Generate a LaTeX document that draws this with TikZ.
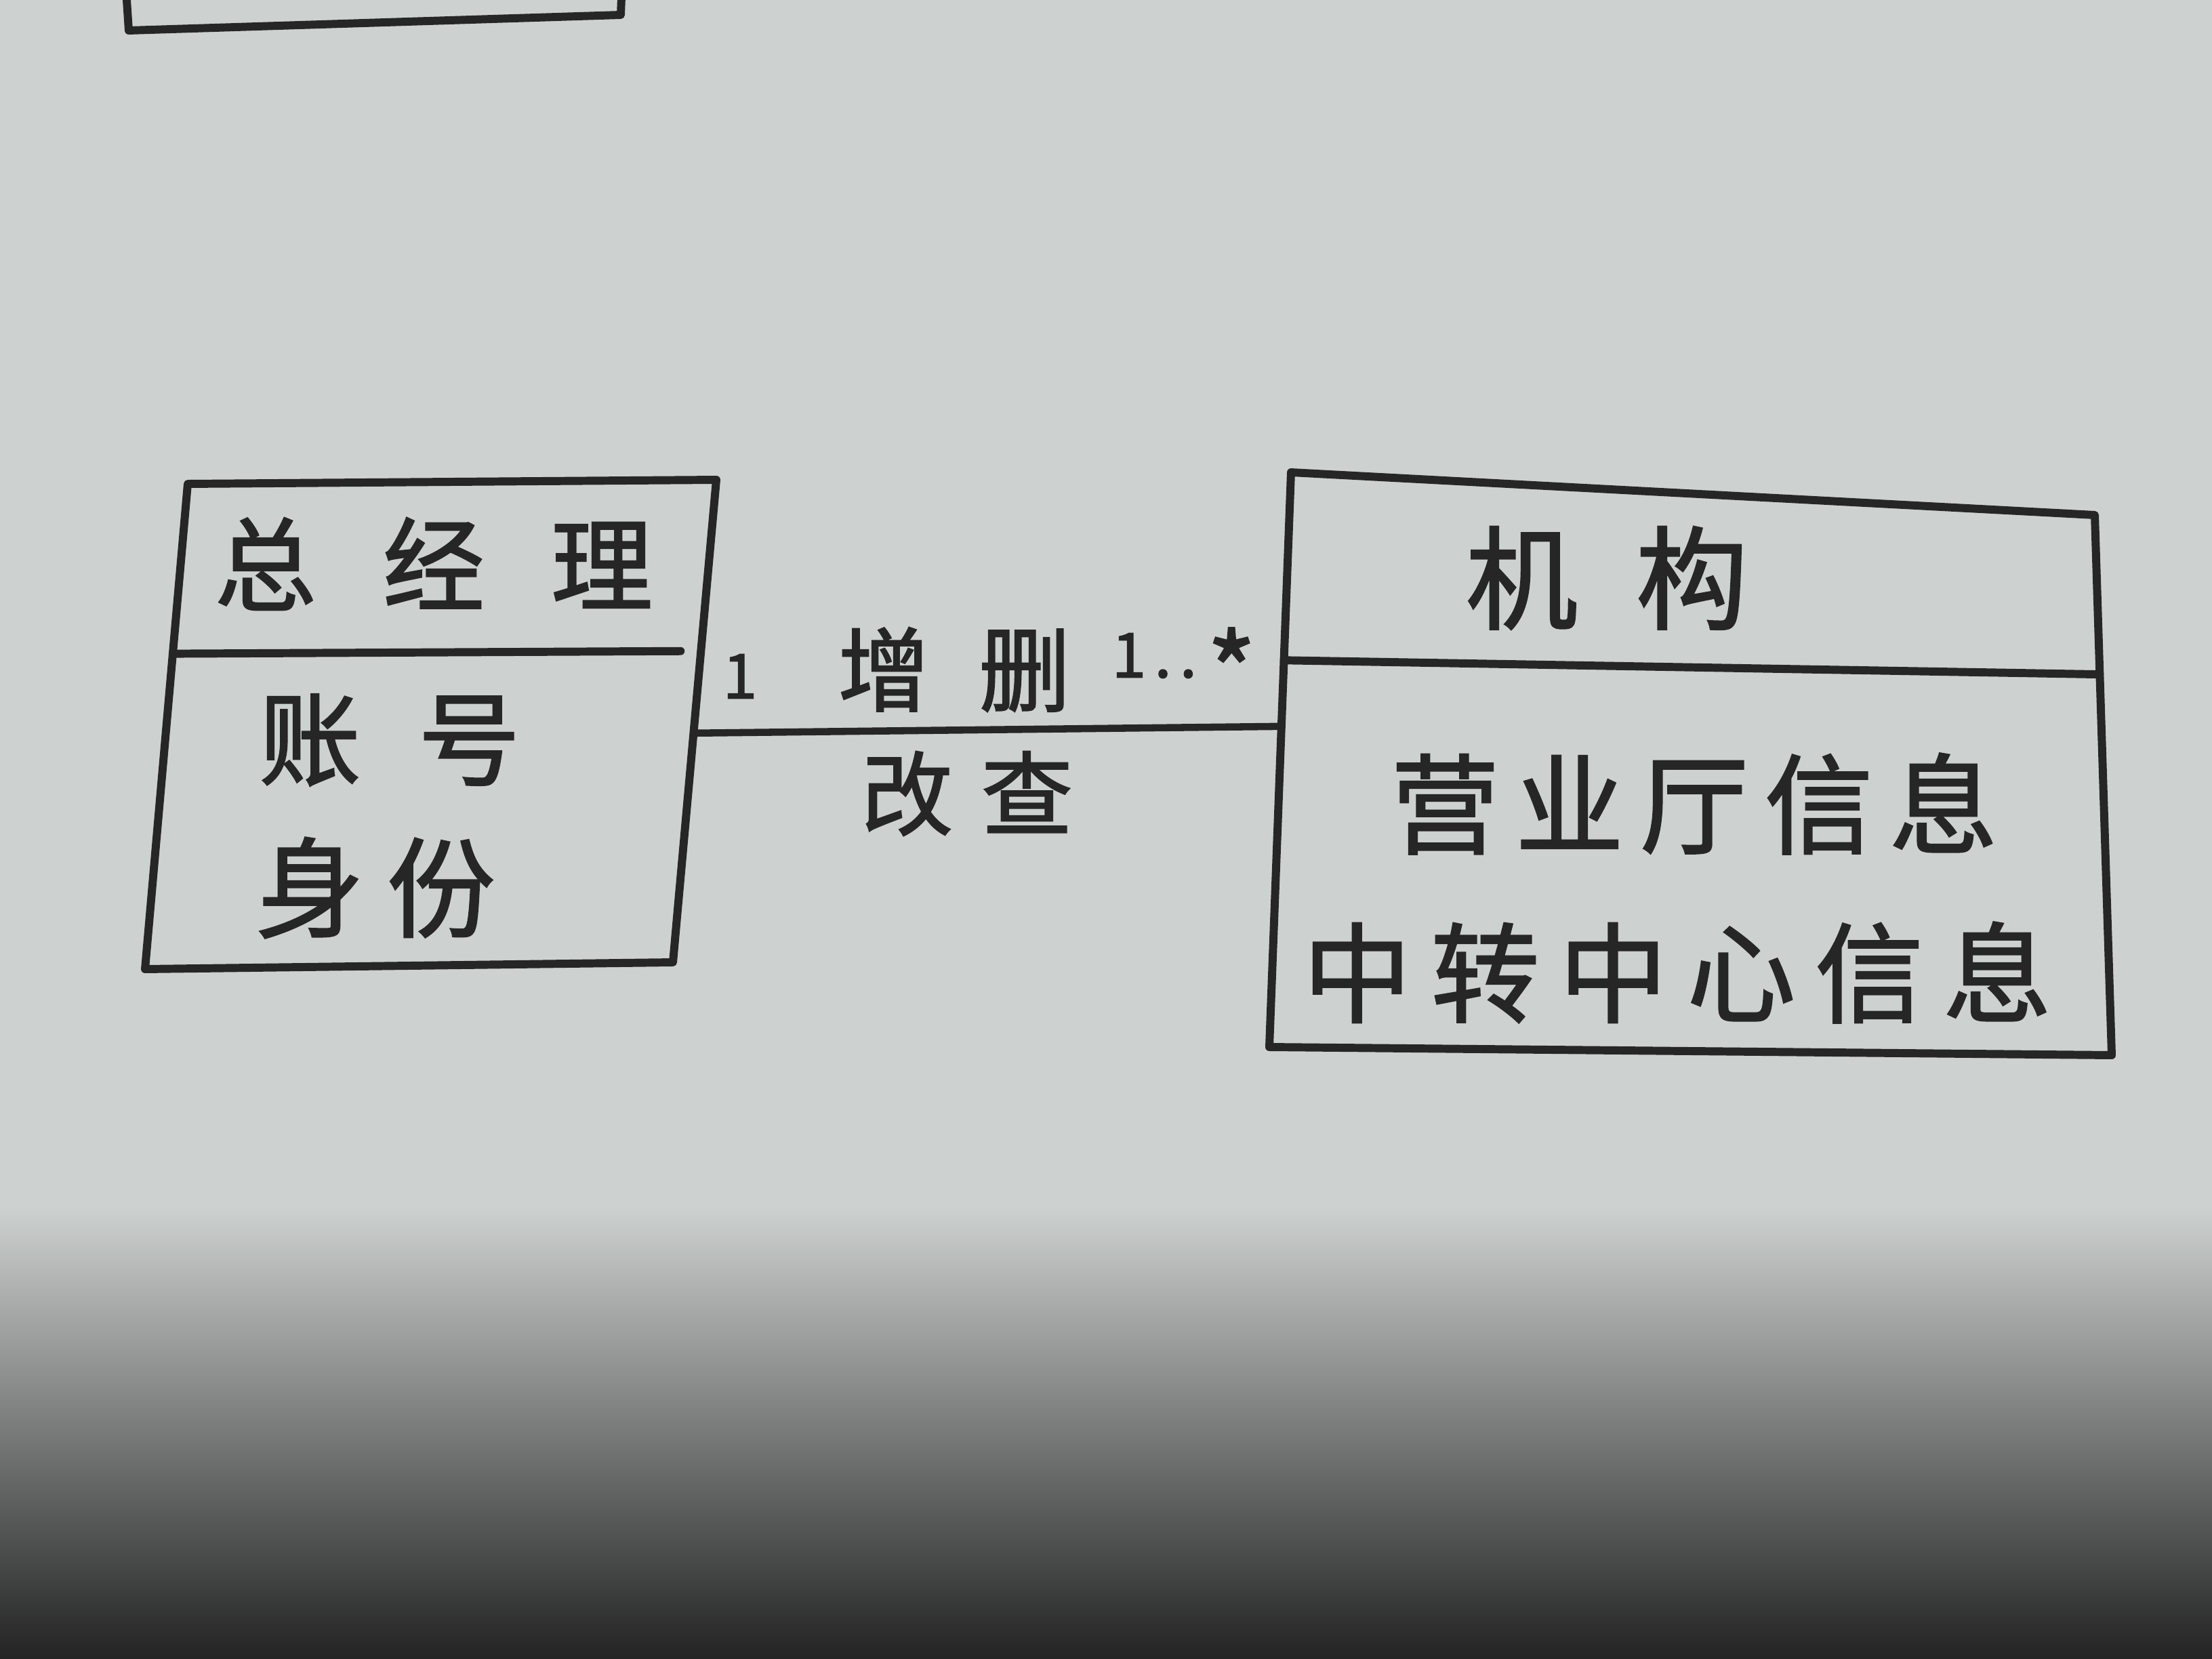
\documentclass[tikz,border=0pt]{standalone}
\usepackage{fontspec}
\newfontfamily\hand[FakeBold=1.6]{Noto Sans CJK SC}
\usetikzlibrary{calc}
\definecolor{paper}{HTML}{CDD1CF}
\definecolor{ink}{HTML}{262626}
\definecolor{shadowmid}{HTML}{8A8D8C}
\definecolor{shadowdark}{HTML}{232323}
\begin{document}
\begin{tikzpicture}[x=1cm,y=1cm,
  box/.style={draw=ink, line width=3.4pt, line join=round, line cap=round},
  conn/.style={draw=ink, line width=3pt, line cap=round},
  lbl/.style={text=ink, inner sep=0pt, anchor=center},
]
\useasboundingbox (0,0) rectangle (32.64,-24.48);
% paper and shadow
\fill[paper] (0,0) rectangle (32.64,-24.48);
\shade[top color=paper, bottom color=shadowmid] (0,-17.8) rectangle (32.64,-20.4);
\shade[top color=shadowmid, bottom color=shadowdark] (0,-20.4) rectangle (32.64,-24.48);

% fragment of a box at the top
\coordinate (T-tl) at (1.85,0.3);
\coordinate (T-bl) at (1.90,-0.45);
\coordinate (T-br) at (9.16,-0.22);
\coordinate (T-tr) at (9.18,0.3);
\draw[box] (T-tl) -- (T-bl) -- (T-br) -- (T-tr);

% left class box
\coordinate (L-tl) at (2.77,-7.14);
\coordinate (L-tr) at (10.57,-7.08);
\coordinate (L-br) at (9.93,-14.20);
\coordinate (L-bl) at (2.14,-14.30);
\draw[box] (L-tl) -- (L-tr) -- (L-br) -- (L-bl) -- cycle;
\coordinate (L-dl) at ($(L-tl)!0.35!(L-bl)$);
\coordinate (L-dr) at ($(L-tr)!0.355!(L-br)+(-0.3,0)$);
\draw[box] (L-dl) -- (L-dr);
\coordinate (L-e) at ($(L-tr)!0.525!(L-br)$);

% right class box
\coordinate (R-tl) at (19.05,-6.97);
\coordinate (R-tr) at (30.91,-7.60);
\coordinate (R-br) at (31.16,-15.57);
\coordinate (R-bl) at (18.73,-15.45);
\draw[box] (R-tl) -- (R-tr) -- (R-br) -- (R-bl) -- cycle;
\coordinate (R-dl) at ($(R-tl)!0.327!(R-bl)$);
\coordinate (R-dr) at ($(R-tr)!0.295!(R-br)$);
\draw[box] (R-dl) -- (R-dr);
\coordinate (R-w) at ($(R-tl)!0.442!(R-bl)$);

% association
\draw[conn] (L-e) -- (R-w);

% texts
\node[lbl, font=\hand\fontsize{42.7pt}{44pt}\selectfont] (Ltitle) at (6.40,-8.32) {总\hspace{0.98cm}经\hspace{0.98cm}理};
\node[lbl, font=\hand\fontsize{42.7pt}{44pt}\selectfont] (Lattr1) at (5.75,-10.92) {账\hspace{0.85cm}号};
\node[lbl, font=\hand\fontsize{45.5pt}{47pt}\selectfont] (Lattr2) at (5.54,-13.10) {身\hspace{0.34cm}份};

\node[lbl, font=\hand\fontsize{47pt}{49pt}\selectfont] (Rtitle) at (23.71,-8.53) {机\hspace{0.86cm}构};
\node[lbl, font=\hand\fontsize{45.5pt}{47pt}\selectfont] (Rattr1) at (25.00,-11.86) {营\hspace{0.24cm}业\hspace{0.24cm}厅\hspace{0.24cm}信\hspace{0.24cm}息};
\node[lbl, font=\hand\fontsize{45.5pt}{47pt}\selectfont] (Rattr2) at (24.75,-14.35) {中\hspace{0.29cm}转\hspace{0.29cm}中\hspace{0.29cm}心\hspace{0.29cm}信\hspace{0.29cm}息};

\node[lbl, font=\hand\fontsize{38.4pt}{40pt}\selectfont] (ops1) at (14.08,-9.88) {增\hspace{0.73cm}删};
\node[lbl, font=\hand\fontsize{38.4pt}{40pt}\selectfont] (ops2) at (14.27,-11.71) {改\hspace{0.42cm}查};

\node[lbl, font=\hand\fontsize{26pt}{28pt}\selectfont] (mult1) at (10.92,-9.98) {1};
\node[lbl, font=\hand\fontsize{26pt}{28pt}\selectfont] (mult2) at (17.47,-9.88) {1\hspace{0.12cm}.\hspace{0.12cm}.\hspace{0.15cm}\raisebox{-0.5cm}{\fontsize{44pt}{44pt}\selectfont *}};
\end{tikzpicture}
\end{document}
